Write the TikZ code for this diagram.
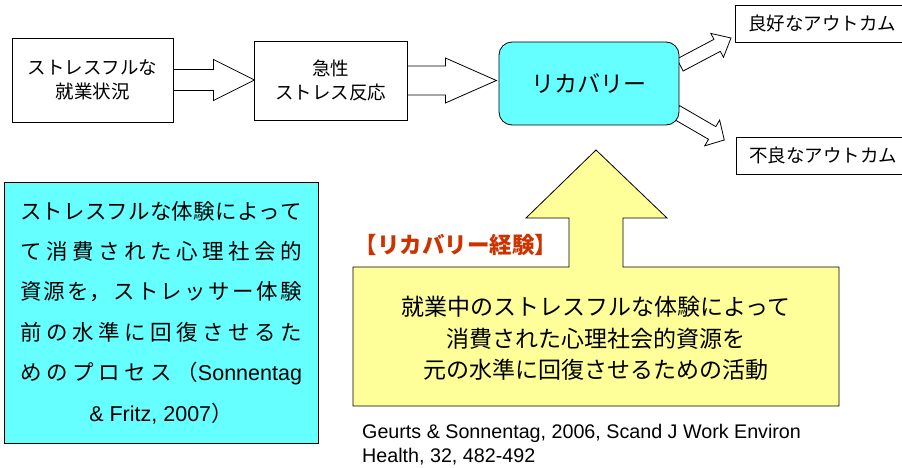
\documentclass[tikz,border=0pt]{standalone}
\usepackage{fontspec}
\setmainfont{Liberation Sans}
\newfontfamily\jp{Noto Sans CJK JP}
\usetikzlibrary{calc}
\definecolor{cyanfill}{RGB}{102,255,255}
\definecolor{yellowfill}{RGB}{255,255,153}
\definecolor{redtext}{RGB}{204,51,0}
\begin{document}
\begin{tikzpicture}[x=1pt,y=-1pt,
  box/.style={draw, line width=0.8pt, fill=white, inner sep=0pt, align=center,
    font=\jp\fontsize{18.5}{24}\selectfont},
  outcome/.style={box, anchor=west, text width=150pt, align=left, inner xsep=13pt,
    minimum height=37pt},
  barrow/.style={draw, line width=0.8pt, fill=white, line join=miter}]
\useasboundingbox (0,0) rectangle (902,468);

% diagonal block arrows (drawn first, the box covers their roots)
\coordinate (ua) at (680,65);
\coordinate (la) at (676,112);
\draw[barrow, shift={(ua)}, rotate=27.9]
  (0,-6.8) -- (42,-6.8) -- (42,-13.5) -- (57.7,0) -- (42,13.5) -- (42,6.8) -- (0,6.8) -- cycle;
\draw[barrow, shift={(la)}, rotate=-30.1]
  (0,-7.3) -- (41.8,-7.3) -- (41.8,-14.9) -- (55.8,0) -- (41.8,14.9) -- (41.8,7.3) -- (0,7.3) -- cycle;

% top row
\node[box, minimum width=161pt, minimum height=84pt] (b1) at (92.5,80) {ストレスフルな\\就業状況};
\node[box, minimum width=153pt, minimum height=79pt] (b2) at (330.5,80.5) {急性\\ストレス反応};
\node[draw, line width=0.8pt, fill=cyanfill, rounded corners=13pt, minimum width=180pt,
  minimum height=83pt, inner sep=0pt, font=\jp\fontsize{23}{28}\selectfont] (rec) at (589,83.5) {リカバリー};
\node[outcome] (good) at (735,23.5) {良好なアウトカム};
\node[outcome] (bad) at (736,155.5) {不良なアウトカム};

% horizontal block arrows
\draw[barrow, shift={(b1.east)}]
  (0,-10.5) -- (40,-10.5) -- (40,-20.5) -- (81,0) -- (40,20.5) -- (40,10.5) -- (0,10.5) -- cycle;
\draw[barrow, shift={(b2.east)}]
  (0,-14.5) -- (38,-14.5) -- (38,-22.5) -- (89,0) -- (38,22.5) -- (38,14.5) -- (0,14.5) -- cycle;

% definition box
\node[draw, line width=0.8pt, fill=cyanfill, minimum width=314pt, minimum height=261pt,
  inner sep=0pt] (def) at (161,312.5) {\parbox{282pt}{\jp\fontsize{21.5}{40.4}\selectfont
  \XeTeXlinebreaklocale "ja"\XeTeXlinebreakskip=0pt plus 1fil\parfillskip=0pt\relax
  ストレスフルな体験によって\linebreak
  て消費された心理社会的\linebreak
  資源を，ストレッサー体験\linebreak
  前の水準に回復させるた\linebreak
  めのプロセス（{\rmfamily Sonnentag}\par
  {\centering{\rmfamily \& Fritz, 2007}）\par}}};

% recovery experience callout
\draw[line width=0.8pt, fill=yellowfill]
  (596,150) -- (667,218) -- (623,218) -- (623,267) -- (839,267) -- (839,406)
  -- (353,406) -- (353,267) -- (569,267) -- (569,218) -- (526,218) -- cycle;
\node[align=center, inner sep=0pt, font=\jp\fontsize{23}{31.5}\selectfont] (exp) at (596,338.5)
  {就業中のストレスフルな体験によって\\消費された心理社会的資源を\\元の水準に回復させるための活動};
\node[inner sep=0pt, text=redtext, font=\jp\bfseries\fontsize{22.5}{26}\selectfont] (rlabel) at (456,245) {【リカバリー経験】};

% citation
\node[anchor=north west, inner sep=0pt, align=left, font=\fontsize{19.7}{24}\selectfont] (cite) at (362,424.5)
  {Geurts \& Sonnentag, 2006, Scand J Work Environ\\Health, 32, 482-492};
\end{tikzpicture}
\end{document}
